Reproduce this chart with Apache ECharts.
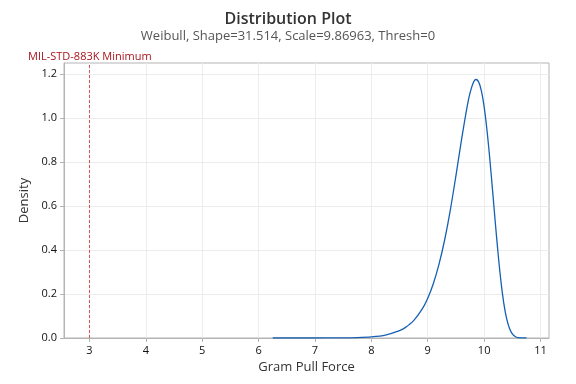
<!DOCTYPE html>
<html><head><meta charset="utf-8">
<script src="https://cdn.jsdelivr.net/npm/echarts@6/dist/echarts.min.js"></script>
<style>html,body{margin:0;padding:0;background:#fff}#c{width:576px;height:384px}</style>
</head><body><div id="c"></div>
<script>
const xValues = [6.25, 6.5, 7.0, 7.5, 7.75, 8.0, 8.25, 8.5, 8.6, 8.75, 8.9, 9.0, 9.1, 9.2, 9.3, 9.4, 9.5, 9.6, 9.7, 9.75, 9.8, 9.85, 9.9, 9.95, 10.0, 10.05, 10.1, 10.15, 10.2, 10.25, 10.3, 10.35, 10.4, 10.45, 10.5, 10.55, 10.6, 10.75];
const density = [0.000003, 0.000009, 0.00009, 0.00073, 0.0020, 0.0053, 0.0134, 0.0331, 0.0472, 0.0792, 0.131, 0.181, 0.248, 0.3355, 0.4466, 0.5817, 0.738, 0.9032, 1.0545, 1.114, 1.1561, 1.1749, 1.1654, 1.1243, 1.0503, 0.9455, 0.8151, 0.6689, 0.5184, 0.3759, 0.2526, 0.1554, 0.0866, 0.0428, 0.0186, 0.0069, 0.0021, 0.00002];
const xTicks = [3, 4, 5, 6, 7, 8, 9, 10, 11];
const yTicks = [0, 0.2, 0.4, 0.6, 0.8, 1.0, 1.2];
const refLineX = 3;
const refLabel = 'MIL-STD-883K Minimum';
const titleText = 'Distribution Plot';
const subtitleText = 'Weibull, Shape=31.514, Scale=9.86963, Thresh=0';

const font = "'Open Sans', 'Noto Sans', sans-serif";
const chart = echarts.init(document.getElementById('c'));
chart.setOption({
  animation: false,
  title: {
    text: titleText, subtext: subtitleText, left: 'center', top: 6, itemGap: 3,
    textStyle: {fontFamily: font, fontSize: 16, fontWeight: 600, color: '#333'},
    subtextStyle: {fontFamily: font, fontSize: 13, color: '#555'}
  },
  grid: {left: 64, right: 27, top: 63, bottom: 46, show: true, borderColor: '#b4b4b4', borderWidth: 1},
  xAxis: {
    type: 'value', min: 2.55, max: 11.15,
    name: 'Gram Pull Force', nameLocation: 'middle', nameGap: 22,
    nameTextStyle: {fontFamily: font, fontSize: 13, color: '#333'},
    axisLine: {show: true, lineStyle: {color: '#b4b4b4'}},
    axisTick: {show: true, length: 4, lineStyle: {color: '#b4b4b4'}, customValues: xTicks},
    axisLabel: {fontFamily: font, fontSize: 11, color: '#111', margin: 7, customValues: xTicks},
    splitLine: {show: true, lineStyle: {color: '#ececec'}}
  },
  yAxis: {
    type: 'value', min: 0, max: 1.25,
    name: 'Density', nameLocation: 'middle', nameGap: 31,
    nameTextStyle: {fontFamily: font, fontSize: 13, color: '#333'},
    axisLine: {show: true, lineStyle: {color: '#b4b4b4'}},
    axisTick: {show: true, length: 4, lineStyle: {color: '#b4b4b4'}, customValues: yTicks},
    axisLabel: {fontFamily: font, fontSize: 11, color: '#111', margin: 7, customValues: yTicks,
      formatter: v => v.toFixed(1)},
    splitLine: {show: true, lineStyle: {color: '#ececec'}}
  },
  graphic: [{
    type: 'text', left: 28, top: 51,
    style: {text: refLabel, fill: '#a8141c', font: "11px 'Open Sans', 'Noto Sans', sans-serif"}
  }],
  series: [{
    type: 'line', data: xValues.map((x, i) => [x, density[i]]),
    smooth: 0.3, showSymbol: false, symbol: 'none',
    lineStyle: {color: '#1660b4', width: 1.3},
    markLine: {
      silent: true, symbol: 'none', label: {show: false},
      lineStyle: {color: '#d9534f', type: [3, 2], width: 1},
      data: [{xAxis: refLineX}]
    }
  }]
});
</script></body></html>
